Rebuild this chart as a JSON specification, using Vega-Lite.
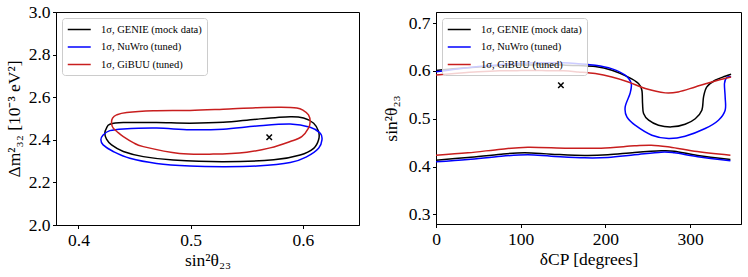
{
  "$schema": "https://vega.github.io/schema/vega-lite/v6.json",
  "padding": {"top": 2, "left": 4, "right": 4, "bottom": 2},
  "spacing": 21,
  "resolve": {"scale": {"color": "independent"}, "legend": {"color": "independent"}},
  "config": {
    "font": "Liberation Serif",
    "view": {"stroke": "black", "strokeWidth": 1},
    "axis": {
      "labelFont": "Liberation Serif", "labelFontSize": 17.5, "labelColor": "black",
      "titleFont": "Liberation Serif", "titleFontSize": 17.5, "titleFontWeight": "normal", "titleColor": "black",
      "grid": false, "domainColor": "black", "tickColor": "black", "tickSize": 3.5, "labelPadding": 2.5,
      "labelFlush": false, "labelOverlap": false
    },
    "legend": {
      "orient": "top-left", "offset": 6, "title": null, "symbolType": "M-1,0L3,0", "symbolSize": 132,
      "symbolStrokeWidth": 1.5, "labelFont": "Liberation Serif", "labelFontSize": 10.5, "labelColor": "black",
      "strokeColor": "#cccccc", "fillColor": "rgba(255,255,255,0.8)", "padding": 5, "cornerRadius": 3,
      "rowPadding": 5.5, "labelOffset": 21
    }
  },
  "datasets": {
    "L": [
      {"m":"GENIE","s":"a","i":0,"x":0.4235,"y":2.431},{"m":"GENIE","s":"a","i":1,"x":0.425,"y":2.455},{"m":"GENIE","s":"a","i":2,"x":0.428,"y":2.473},{"m":"GENIE","s":"a","i":3,"x":0.44,"y":2.481},{"m":"GENIE","s":"a","i":4,"x":0.4696,"y":2.481},{"m":"GENIE","s":"a","i":5,"x":0.4994,"y":2.478},{"m":"GENIE","s":"a","i":6,"x":0.529,"y":2.482},{"m":"GENIE","s":"a","i":7,"x":0.559,"y":2.497},{"m":"GENIE","s":"a","i":8,"x":0.5887,"y":2.508},{"m":"GENIE","s":"a","i":9,"x":0.6006,"y":2.502},{"m":"GENIE","s":"a","i":10,"x":0.6096,"y":2.478},{"m":"GENIE","s":"a","i":11,"x":0.614,"y":2.439},{"m":"GENIE","s":"a","i":12,"x":0.614,"y":2.4},{"m":"GENIE","s":"a","i":13,"x":0.6096,"y":2.36},{"m":"GENIE","s":"a","i":14,"x":0.5976,"y":2.329},{"m":"GENIE","s":"a","i":15,"x":0.574,"y":2.306},{"m":"GENIE","s":"a","i":16,"x":0.529,"y":2.297},{"m":"GENIE","s":"a","i":17,"x":0.4845,"y":2.305},{"m":"GENIE","s":"a","i":18,"x":0.4578,"y":2.321},{"m":"GENIE","s":"a","i":19,"x":0.44,"y":2.345},{"m":"GENIE","s":"a","i":20,"x":0.4295,"y":2.376},{"m":"GENIE","s":"a","i":21,"x":0.425,"y":2.403},
      {"m":"NuWro","s":"b","i":0,"x":0.42,"y":2.4},{"m":"NuWro","s":"b","i":1,"x":0.422,"y":2.423},{"m":"NuWro","s":"b","i":2,"x":0.428,"y":2.443},{"m":"NuWro","s":"b","i":3,"x":0.44,"y":2.451},{"m":"NuWro","s":"b","i":4,"x":0.4696,"y":2.455},{"m":"NuWro","s":"b","i":5,"x":0.4994,"y":2.447},{"m":"NuWro","s":"b","i":6,"x":0.529,"y":2.45},{"m":"NuWro","s":"b","i":7,"x":0.559,"y":2.465},{"m":"NuWro","s":"b","i":8,"x":0.5887,"y":2.474},{"m":"NuWro","s":"b","i":9,"x":0.6065,"y":2.459},{"m":"NuWro","s":"b","i":10,"x":0.6155,"y":2.431},{"m":"NuWro","s":"b","i":11,"x":0.617,"y":2.4},{"m":"NuWro","s":"b","i":12,"x":0.614,"y":2.36},{"m":"NuWro","s":"b","i":13,"x":0.6036,"y":2.321},{"m":"NuWro","s":"b","i":14,"x":0.5887,"y":2.293},{"m":"NuWro","s":"b","i":15,"x":0.559,"y":2.277},{"m":"NuWro","s":"b","i":16,"x":0.529,"y":2.274},{"m":"NuWro","s":"b","i":17,"x":0.4994,"y":2.277},{"m":"NuWro","s":"b","i":18,"x":0.4696,"y":2.289},{"m":"NuWro","s":"b","i":19,"x":0.4458,"y":2.313},{"m":"NuWro","s":"b","i":20,"x":0.431,"y":2.345},{"m":"NuWro","s":"b","i":21,"x":0.422,"y":2.376},
      {"m":"GiBUU","s":"c","i":0,"x":0.4295,"y":2.478},{"m":"GiBUU","s":"c","i":1,"x":0.4304,"y":2.502},{"m":"GiBUU","s":"c","i":2,"x":0.434,"y":2.517},{"m":"GiBUU","s":"c","i":3,"x":0.443,"y":2.528},{"m":"GiBUU","s":"c","i":4,"x":0.4667,"y":2.536},{"m":"GiBUU","s":"c","i":5,"x":0.4994,"y":2.538},{"m":"GiBUU","s":"c","i":6,"x":0.529,"y":2.544},{"m":"GiBUU","s":"c","i":7,"x":0.559,"y":2.551},{"m":"GiBUU","s":"c","i":8,"x":0.5806,"y":2.553},{"m":"GiBUU","s":"c","i":9,"x":0.5946,"y":2.549},{"m":"GiBUU","s":"c","i":10,"x":0.6006,"y":2.537},{"m":"GiBUU","s":"c","i":11,"x":0.605,"y":2.517},{"m":"GiBUU","s":"c","i":12,"x":0.6065,"y":2.486},{"m":"GiBUU","s":"c","i":13,"x":0.605,"y":2.455},{"m":"GiBUU","s":"c","i":14,"x":0.599,"y":2.415},{"m":"GiBUU","s":"c","i":15,"x":0.5887,"y":2.392},{"m":"GiBUU","s":"c","i":16,"x":0.5708,"y":2.362},{"m":"GiBUU","s":"c","i":17,"x":0.55,"y":2.342},{"m":"GiBUU","s":"c","i":18,"x":0.52,"y":2.333},{"m":"GiBUU","s":"c","i":19,"x":0.49,"y":2.336},{"m":"GiBUU","s":"c","i":20,"x":0.4578,"y":2.368},{"m":"GiBUU","s":"c","i":21,"x":0.4488,"y":2.387},{"m":"GiBUU","s":"c","i":22,"x":0.44,"y":2.415},{"m":"GiBUU","s":"c","i":23,"x":0.4354,"y":2.434},{"m":"GiBUU","s":"c","i":24,"x":0.431,"y":2.455}
    ],
    "R": [
      {"m":"GENIE","s":"gu","i":0,"x":0,"y":0.601},{"m":"GENIE","s":"gu","i":1,"x":25,"y":0.605},{"m":"GENIE","s":"gu","i":2,"x":50,"y":0.608},{"m":"GENIE","s":"gu","i":3,"x":75,"y":0.611},{"m":"GENIE","s":"gu","i":4,"x":100,"y":0.612},{"m":"GENIE","s":"gu","i":5,"x":125,"y":0.613},{"m":"GENIE","s":"gu","i":6,"x":150,"y":0.612},{"m":"GENIE","s":"gu","i":7,"x":168,"y":0.611},{"m":"GENIE","s":"gu","i":8,"x":188,"y":0.609},{"m":"GENIE","s":"gu","i":9,"x":207.6,"y":0.6013},{"m":"GENIE","s":"gu","i":10,"x":227,"y":0.587},{"m":"GENIE","s":"gu","i":11,"x":239,"y":0.5735},{"m":"GENIE","s":"gu","i":12,"x":243,"y":0.5595},{"m":"GENIE","s":"gu","i":13,"x":243.8,"y":0.5317},{"m":"GENIE","s":"gu","i":14,"x":245,"y":0.511},{"m":"GENIE","s":"gu","i":15,"x":251,"y":0.497},{"m":"GENIE","s":"gu","i":16,"x":262.6,"y":0.4865},{"m":"GENIE","s":"gu","i":17,"x":278.3,"y":0.483},{"m":"GENIE","s":"gu","i":18,"x":294,"y":0.4885},{"m":"GENIE","s":"gu","i":19,"x":306,"y":0.5},{"m":"GENIE","s":"gu","i":20,"x":313.8,"y":0.5177},{"m":"GENIE","s":"gu","i":21,"x":315.8,"y":0.5455},{"m":"GENIE","s":"gu","i":22,"x":319.7,"y":0.5664},{"m":"GENIE","s":"gu","i":23,"x":329.5,"y":0.5804},{"m":"GENIE","s":"gu","i":24,"x":341.3,"y":0.5887},{"m":"GENIE","s":"gu","i":25,"x":348.3,"y":0.593},
      {"m":"NuWro","s":"nu","i":0,"x":0,"y":0.598},{"m":"NuWro","s":"nu","i":1,"x":25,"y":0.604},{"m":"NuWro","s":"nu","i":2,"x":50,"y":0.609},{"m":"NuWro","s":"nu","i":3,"x":75,"y":0.613},{"m":"NuWro","s":"nu","i":4,"x":100,"y":0.616},{"m":"NuWro","s":"nu","i":5,"x":125,"y":0.617},{"m":"NuWro","s":"nu","i":6,"x":150,"y":0.617},{"m":"NuWro","s":"nu","i":7,"x":168,"y":0.615},{"m":"NuWro","s":"nu","i":8,"x":188,"y":0.6117},{"m":"NuWro","s":"nu","i":9,"x":207,"y":0.6047},{"m":"NuWro","s":"nu","i":10,"x":223.3,"y":0.591},{"m":"NuWro","s":"nu","i":11,"x":230.4,"y":0.5735},{"m":"NuWro","s":"nu","i":12,"x":229,"y":0.5526},{"m":"NuWro","s":"nu","i":13,"x":223.3,"y":0.5246},{"m":"NuWro","s":"nu","i":14,"x":225.3,"y":0.5038},{"m":"NuWro","s":"nu","i":15,"x":235,"y":0.4865},{"m":"NuWro","s":"nu","i":16,"x":254.8,"y":0.4656},{"m":"NuWro","s":"nu","i":17,"x":274.5,"y":0.4587},{"m":"NuWro","s":"nu","i":18,"x":294,"y":0.4635},{"m":"NuWro","s":"nu","i":19,"x":317.7,"y":0.4795},{"m":"NuWro","s":"nu","i":20,"x":333.4,"y":0.4969},{"m":"NuWro","s":"nu","i":21,"x":341.3,"y":0.5177},{"m":"NuWro","s":"nu","i":22,"x":341.3,"y":0.5455},{"m":"NuWro","s":"nu","i":23,"x":340.5,"y":0.5735},{"m":"NuWro","s":"nu","i":24,"x":343.3,"y":0.586},{"m":"NuWro","s":"nu","i":25,"x":348.3,"y":0.587},
      {"m":"GiBUU","s":"bu","i":0,"x":0,"y":0.5915},{"m":"GiBUU","s":"bu","i":1,"x":25,"y":0.595},{"m":"GiBUU","s":"bu","i":2,"x":50,"y":0.598},{"m":"GiBUU","s":"bu","i":3,"x":75,"y":0.6},{"m":"GiBUU","s":"bu","i":4,"x":100,"y":0.6005},{"m":"GiBUU","s":"bu","i":5,"x":125,"y":0.6005},{"m":"GiBUU","s":"bu","i":6,"x":150,"y":0.6},{"m":"GiBUU","s":"bu","i":7,"x":168,"y":0.5977},{"m":"GiBUU","s":"bu","i":8,"x":188,"y":0.5943},{"m":"GiBUU","s":"bu","i":9,"x":207.6,"y":0.5873},{"m":"GiBUU","s":"bu","i":10,"x":227,"y":0.5769},{"m":"GiBUU","s":"bu","i":11,"x":247,"y":0.563},{"m":"GiBUU","s":"bu","i":12,"x":270.6,"y":0.554},{"m":"GiBUU","s":"bu","i":13,"x":286,"y":0.556},{"m":"GiBUU","s":"bu","i":14,"x":306,"y":0.5664},{"m":"GiBUU","s":"bu","i":15,"x":325.6,"y":0.5769},{"m":"GiBUU","s":"bu","i":16,"x":348.3,"y":0.587},
      {"m":"GiBUU","s":"bl","i":0,"x":0,"y":0.4239},{"m":"GiBUU","s":"bl","i":1,"x":37.7,"y":0.4287},{"m":"GiBUU","s":"bl","i":2,"x":77,"y":0.4364},{"m":"GiBUU","s":"bl","i":3,"x":108.5,"y":0.4406},{"m":"GiBUU","s":"bl","i":4,"x":155.7,"y":0.4385},{"m":"GiBUU","s":"bl","i":5,"x":195,"y":0.4385},{"m":"GiBUU","s":"bl","i":6,"x":234.3,"y":0.4433},{"m":"GiBUU","s":"bl","i":7,"x":254,"y":0.4447},{"m":"GiBUU","s":"bl","i":8,"x":273.6,"y":0.4412},{"m":"GiBUU","s":"bl","i":9,"x":305,"y":0.4322},{"m":"GiBUU","s":"bl","i":10,"x":347.5,"y":0.4239},
      {"m":"GENIE","s":"gl","i":0,"x":0,"y":0.4134},{"m":"GENIE","s":"gl","i":1,"x":37.7,"y":0.419},{"m":"GENIE","s":"gl","i":2,"x":77,"y":0.426},{"m":"GENIE","s":"gl","i":3,"x":104.6,"y":0.4287},{"m":"GENIE","s":"gl","i":4,"x":136,"y":0.426},{"m":"GENIE","s":"gl","i":5,"x":175.4,"y":0.4232},{"m":"GENIE","s":"gl","i":6,"x":202.8,"y":0.4245},{"m":"GENIE","s":"gl","i":7,"x":234.3,"y":0.4294},{"m":"GENIE","s":"gl","i":8,"x":265.8,"y":0.4329},{"m":"GENIE","s":"gl","i":9,"x":281.5,"y":0.432},{"m":"GENIE","s":"gl","i":10,"x":309,"y":0.4232},{"m":"GENIE","s":"gl","i":11,"x":347.5,"y":0.4148},
      {"m":"NuWro","s":"nl","i":0,"x":0,"y":0.4099},{"m":"NuWro","s":"nl","i":1,"x":37.7,"y":0.4148},{"m":"NuWro","s":"nl","i":2,"x":77,"y":0.4218},{"m":"NuWro","s":"nl","i":3,"x":108.5,"y":0.4245},{"m":"NuWro","s":"nl","i":4,"x":136,"y":0.4218},{"m":"NuWro","s":"nl","i":5,"x":175.4,"y":0.4183},{"m":"NuWro","s":"nl","i":6,"x":202.8,"y":0.419},{"m":"NuWro","s":"nl","i":7,"x":234.3,"y":0.4245},{"m":"NuWro","s":"nl","i":8,"x":265.8,"y":0.4301},{"m":"NuWro","s":"nl","i":9,"x":281.5,"y":0.4287},{"m":"NuWro","s":"nl","i":10,"x":309,"y":0.4204},{"m":"NuWro","s":"nl","i":11,"x":347.5,"y":0.412}
    ],
    "PL": [{"x": 0.570, "y": 2.412}],
    "PR": [{"x": 147.4, "y": 0.570}]
  },
  "hconcat": [
    {
      "width": 303, "height": 213,
      "layer": [
        {
          "data": {"name": "L"},
          "mark": {"type": "line", "interpolate": "cardinal-closed", "strokeWidth": 1.5, "clip": true},
          "encoding": {
            "x": {"field": "x", "type": "quantitative", "scale": {"domain": [0.38, 0.65], "nice": false, "zero": false}, "axis": {"values": [0.4, 0.5, 0.6], "format": ".1f", "title": "sin²θ₂₃", "titlePadding": 3}},
            "y": {"field": "y", "type": "quantitative", "scale": {"domain": [2.0, 3.0], "nice": false, "zero": false}, "axis": {"values": [2.0, 2.2, 2.4, 2.6, 2.8, 3.0], "format": ".1f", "title": "Δm²₃₂ [10⁻³ eV²]", "titlePadding": 5}},
            "color": {"field": "m", "type": "nominal", "scale": {"domain": ["GENIE", "NuWro", "GiBUU"], "range": ["#000000", "#0000ff", "#c81e1e"]}, "legend": {"labelExpr": "'1σ, ' + datum.label + (datum.label == 'GENIE' ? ' (mock data)' : ' (tuned)')"}},
            "detail": {"field": "s", "type": "nominal"},
            "order": {"field": "i", "type": "quantitative"}
          }
        },
        {
          "data": {"name": "PL"},
          "mark": {"type": "point", "shape": "M-1,-1L1,1M-1,1L1,-1", "size": 30, "stroke": "black", "strokeWidth": 1.5, "filled": false, "opacity": 1},
          "encoding": {"x": {"field": "x", "type": "quantitative"}, "y": {"field": "y", "type": "quantitative"}}
        }
      ]
    },
    {
      "width": 305, "height": 212,
      "layer": [
        {
          "data": {"name": "R"},
          "mark": {"type": "line", "interpolate": "cardinal", "strokeWidth": 1.5, "clip": true},
          "encoding": {
            "x": {"field": "x", "type": "quantitative", "scale": {"domain": [0, 360], "nice": false, "zero": false}, "axis": {"values": [0, 100, 200, 300], "title": "δCP [degrees]", "titlePadding": 3}},
            "y": {"field": "y", "type": "quantitative", "scale": {"domain": [0.28, 0.723], "nice": false, "zero": false}, "axis": {"values": [0.3, 0.4, 0.5, 0.6, 0.7], "format": ".1f", "title": "sin²θ₂₃", "titlePadding": 8}},
            "color": {"field": "m", "type": "nominal", "scale": {"domain": ["GENIE", "NuWro", "GiBUU"], "range": ["#000000", "#0000ff", "#c81e1e"]}, "legend": {"labelExpr": "'1σ, ' + datum.label + (datum.label == 'GENIE' ? ' (mock data)' : ' (tuned)')"}},
            "detail": {"field": "s", "type": "nominal"},
            "order": {"field": "i", "type": "quantitative"}
          }
        },
        {
          "data": {"name": "PR"},
          "mark": {"type": "point", "shape": "M-1,-1L1,1M-1,1L1,-1", "size": 30, "stroke": "black", "strokeWidth": 1.5, "filled": false, "opacity": 1},
          "encoding": {"x": {"field": "x", "type": "quantitative"}, "y": {"field": "y", "type": "quantitative"}}
        }
      ]
    }
  ]
}
